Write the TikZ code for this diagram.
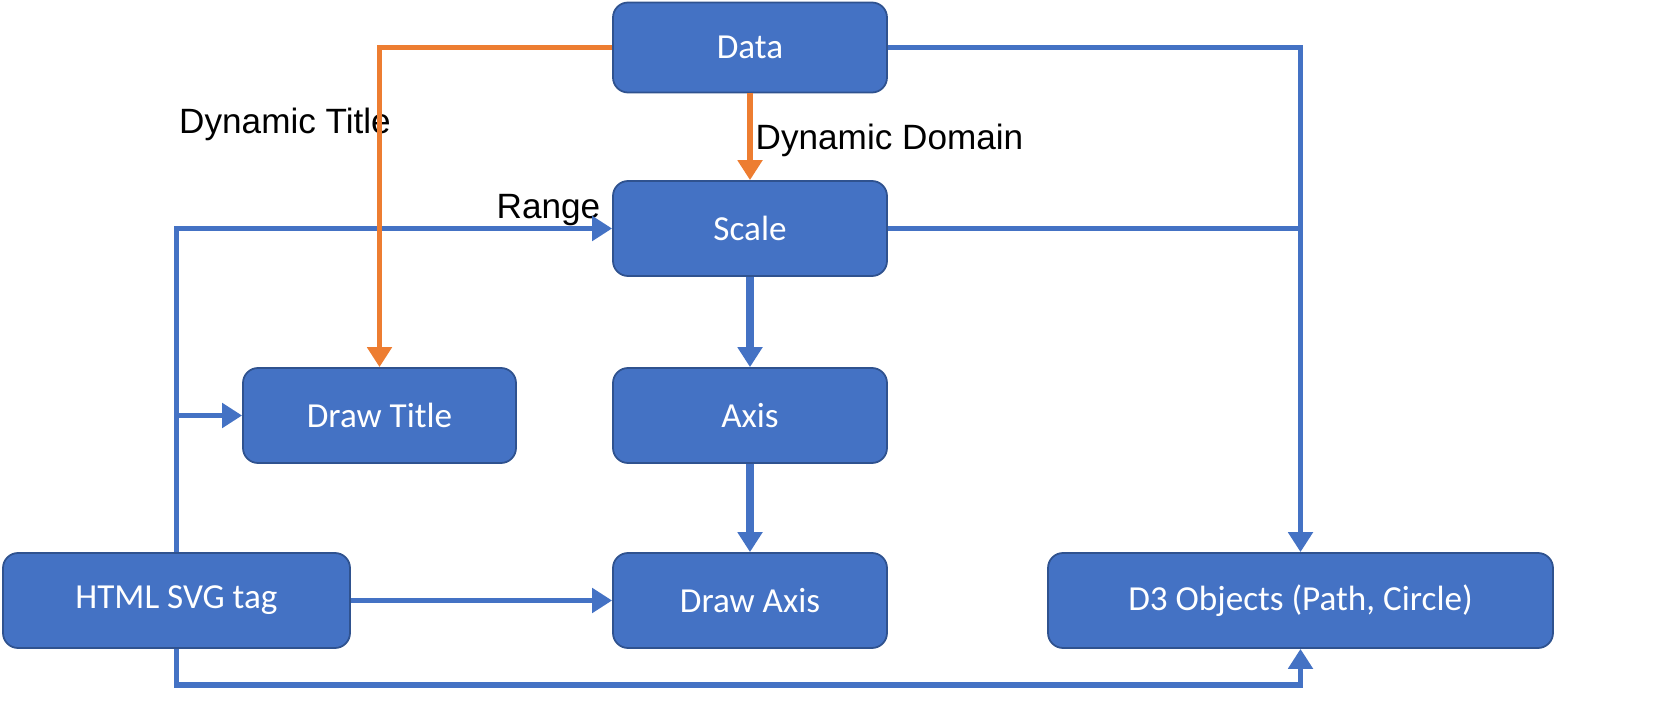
\documentclass[tikz,border=0pt]{standalone}
\usepackage{fontspec}
\setmainfont{Carlito}
\newfontfamily\labelfont{Liberation Sans}
\usetikzlibrary{arrows.meta}
\definecolor{boxfill}{HTML}{4472C4}
\definecolor{boxline}{HTML}{2F528F}
\definecolor{flowblue}{HTML}{4472C4}
\definecolor{floworange}{HTML}{ED7D31}
\tikzset{
  block/.style={draw=boxline, line width=0.5pt, fill=boxfill, rounded corners=0.15cm,
    text=white, font=\fontsize{10}{12}\selectfont, minimum height=0.95cm, inner sep=0pt},
  flow/.style={draw=flowblue, line width=1.7pt},
  dynflow/.style={draw=floworange, line width=1.7pt},
  tip/.style={-{Triangle[length=0.2cm,width=0.24cm]}},
  flowlabel/.style={font=\labelfont\fontsize{10}{12}\selectfont, inner sep=0pt}
}
\begin{document}
\begin{tikzpicture}
                    \useasboundingbox (0,0) rectangle (16.560000,7.270000);

                    % Drawing boxes
                    \node [block, minimum width=2.740000cm, minimum height=0.900000cm] (data) at (7.500000,6.795000) {Data};%
                    \node [block, minimum width=2.740000cm] (scale) at (7.500000,4.985000) {Scale};%
                    \node [block, minimum width=2.740000cm] (axis) at (7.500000,3.115000) {Axis};%
                    \node [block, minimum width=2.740000cm] (drawaxis) at (7.500000,1.265000) {Draw Axis};%
                    \node [block, minimum width=2.730000cm] (drawtitle) at (3.795000,3.115000) {Draw Title};%
                    \node [block, minimum width=3.470000cm] (html) at (1.765000,1.265000) {HTML SVG tag};%
                    \node [block, minimum width=5.050000cm] (d3) at (13.005000,1.265000) {D3 Objects (Path, Circle)};%

                    % Drawing labels
                    \node [flowlabel] (titlelabel) at (2.850000,6.030000) {Dynamic Title};%
                    \node [flowlabel, anchor=west] (domainlabel) at (7.550000,5.870000) {Dynamic Domain};%
                    \node [flowlabel] (rangelabel) at (5.485000,5.170000) {Range};%

                    % Drawing line Data D3
                    \draw [flow, tip] (data.east) -| (d3.north);%

                    % Drawing line Scale D3
                    \draw [flow] (scale.east) -- (d3.north |- scale.east);%

                    % Drawing line Scale Axis
                    \draw [flow, line width=2.3pt, tip] (scale.south) -- (axis.north);%

                    % Drawing line Axis DrawAxis
                    \draw [flow, line width=2.3pt, tip] (axis.south) -- (drawaxis.north);%

                    % Drawing line HTML Scale
                    \draw [flow, tip] (html.north) |- (scale.west);%

                    % Drawing line HTML DrawTitle
                    \coordinate (tap) at (html.north |- drawtitle.west);%
                    \draw [flow, tip] (tap) -- (drawtitle.west);%

                    % Drawing line HTML DrawAxis
                    \draw [flow, tip] (html.east) -- (drawaxis.west);%

                    % Drawing line HTML D3
                    \coordinate (bottom) at (1.765000,0.420000);%
                    \draw [flow, tip] (html.south) -- (bottom) -| (d3.south);%

                    % Drawing line Data DrawTitle
                    \draw [dynflow, tip] (data.west) -| (drawtitle.north);%

                    % Drawing line Data Scale
                    \draw [dynflow, tip] (data.south) -- (scale.north);%
                    \end{tikzpicture}
\end{document}
